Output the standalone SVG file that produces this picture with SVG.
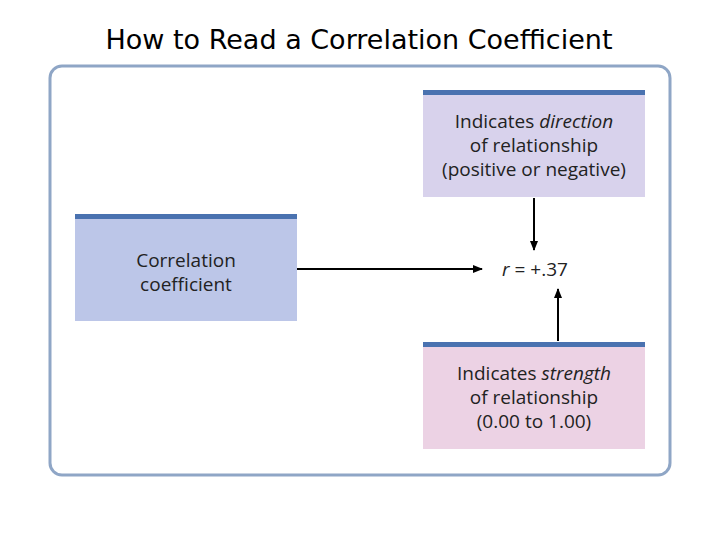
<svg xmlns="http://www.w3.org/2000/svg" width="720" height="540" viewBox="0 0 720 540">
<defs>
<marker id="ah" markerWidth="10" markerHeight="8" refX="9" refY="4" orient="auto" markerUnits="userSpaceOnUse"><path d="M0,0 L10,4 L0,8 Z" fill="#000"/></marker>
<style>
.t{font-family:"Open Sans","Noto Sans",sans-serif;font-size:19px;fill:#222;text-anchor:middle}
.bar{fill:#4a72b0}
.c{stroke:#000;stroke-width:2;fill:none;marker-end:url(#ah)}
</style>
</defs>
<rect width="720" height="540" fill="#fff"/>
<text x="359" y="49" font-family="DejaVu Sans, sans-serif" font-size="27" text-anchor="middle" fill="#000">How to Read a Correlation Coefficient</text>
<rect x="50" y="66" width="620" height="409" rx="12" fill="#fff" stroke="#8fa6c6" stroke-width="3"/>
<g id="coef">
<rect x="75" y="214" width="222" height="107" fill="#bcc6e8"/><rect class="bar" x="75" y="214" width="222" height="5"/>
<text class="t" x="186" y="267">Correlation</text><text class="t" x="186" y="291">coefficient</text>
</g>
<g id="direction">
<rect x="423" y="90" width="222" height="107" fill="#d8d2ec"/><rect class="bar" x="423" y="90" width="222" height="5"/>
<text class="t" x="534" y="128">Indicates <tspan font-style="italic">direction</tspan></text>
<text class="t" x="534" y="152">of relationship</text><text class="t" x="534" y="176">(positive or negative)</text>
</g>
<g id="strength">
<rect x="423" y="342" width="222" height="107" fill="#ecd2e4"/><rect class="bar" x="423" y="342" width="222" height="5"/>
<text class="t" x="534" y="380">Indicates <tspan font-style="italic">strength</tspan></text>
<text class="t" x="534" y="404">of relationship</text><text class="t" x="534" y="428">(0.00 to 1.00)</text>
</g>
<g id="value"><text class="t" x="535" y="276"><tspan font-style="italic">r</tspan> = +.37</text></g>
<g id="connectors">
<path class="c" d="M297,269 H482"/>
<path class="c" d="M534,198 V250"/>
<path class="c" d="M558,341 V289"/>
</g>
</svg>
